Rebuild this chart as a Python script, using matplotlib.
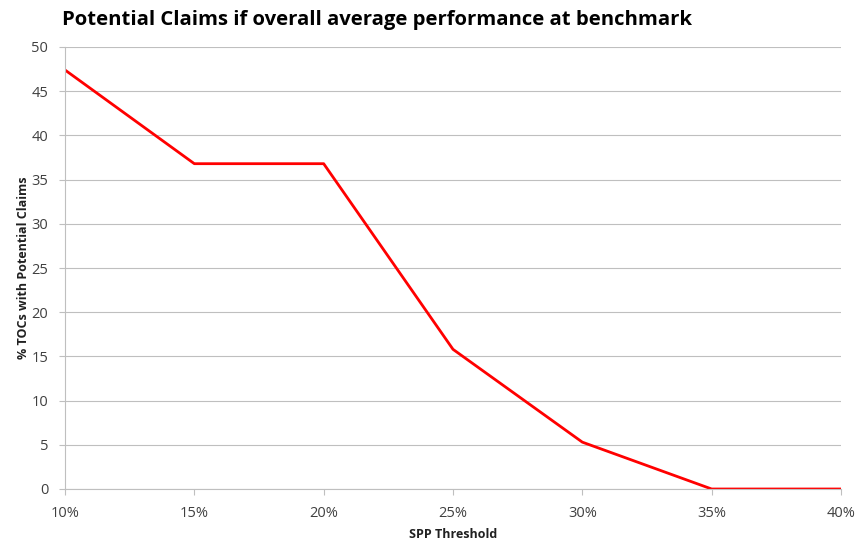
import matplotlib
matplotlib.use("Agg")
import matplotlib.pyplot as plt

thresholds = [0.10, 0.15, 0.20, 0.25, 0.30, 0.35, 0.40]
tick_labels = ["10%", "15%", "20%", "25%", "30%", "35%", "40%"]
pct_claims = [47.4, 36.8, 36.8, 15.8, 5.3, 0.0, 0.0]

plt.rcParams['font.family'] = ['Open Sans', 'DejaVu Sans']

fig = plt.figure(figsize=(8.59, 5.45), dpi=100)
ax = fig.add_axes([65/859, 56/545, (841-65)/859, (489-47)/545])

ax.plot(thresholds, pct_claims, color='#ff0000', linewidth=2.0)
ax.set_xlim(0.10, 0.40)
ax.set_ylim(0, 50)
ax.set_xticks(thresholds)
ax.set_xticklabels(tick_labels)
ax.set_yticks(range(0, 51, 5))
ax.grid(axis='y', color='#bfbfbf', linewidth=0.8)
ax.set_axisbelow(True)
for s in ['top', 'right']:
    ax.spines[s].set_visible(False)
for s in ['left', 'bottom']:
    ax.spines[s].set_color('#bfbfbf')
ax.tick_params(axis='both', colors='#bfbfbf', labelcolor='#404040', labelsize=10.5, length=4)
ax.tick_params(axis='x', pad=8)
ax.tick_params(axis='y', pad=8)
ax.set_xlabel('SPP Threshold', fontsize=9, fontweight='bold', color='#202020', labelpad=5)
ax.set_ylabel('% TOCs with Potential Claims', fontsize=9, fontweight='bold', color='#202020', labelpad=1)
fig.text(62/859, 1 - 20/545, 'Potential Claims if overall average performance at benchmark',
         fontsize=14.6, fontweight='bold', color='#000000', va='center', ha='left')

fig.savefig('out.png', dpi=100)
